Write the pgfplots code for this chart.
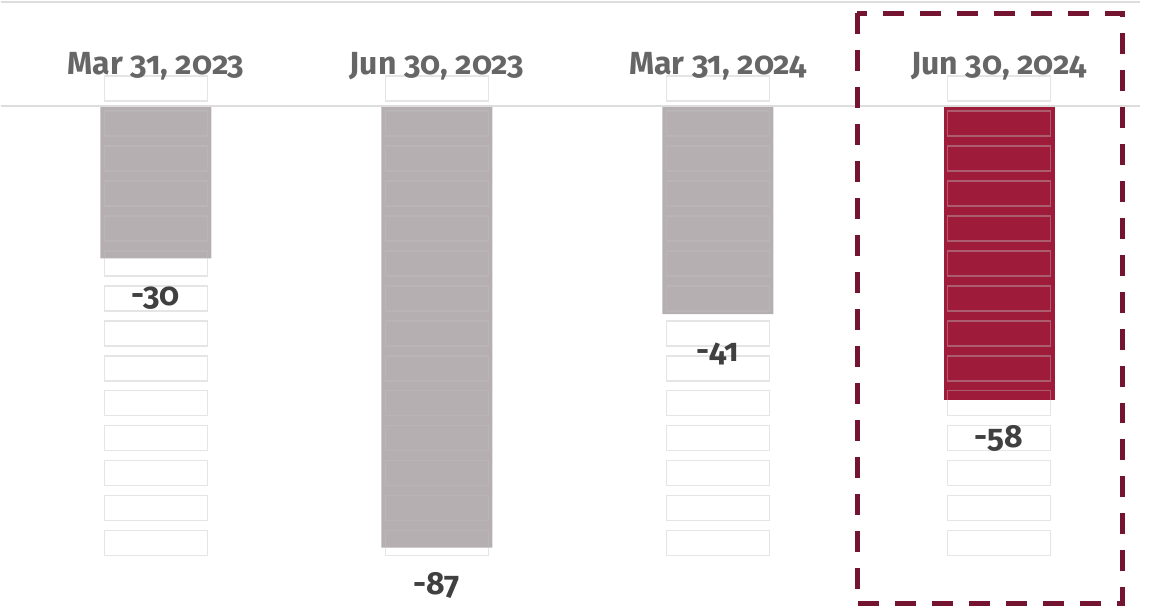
\documentclass[border=0pt]{standalone}
\usepackage{fontspec}
\setmainfont{Fira Sans}[RawFeature=+onum]
\usepackage{pgfplots}
\pgfplotsset{compat=1.18}
\definecolor{bargray}{RGB}{181,175,177}
\definecolor{barred}{RGB}{158,27,58}
\definecolor{boxred}{RGB}{116,20,48}
\definecolor{labgray}{RGB}{102,102,102}
\definecolor{valdark}{RGB}{64,64,64}
\definecolor{rule}{RGB}{221,221,221}

\begin{document}
\begin{tikzpicture}
\begin{axis}[
    width=586.5pt, height=306pt,
    scale only axis,
    hide axis,
    clip=false,
    xmin=-0.551, xmax=3.619,
    ymin=-99.6, ymax=20.9,
    ybar, bar width=0.395, bar shift=0pt,
    point meta=explicit symbolic,
    nodes near coords,
    every node near coord/.append style={anchor=base, yshift=-23.5pt,
        font=\fontsize{16}{18}\selectfont\bfseries, text=valdark},
]
\path (rel axis cs:0,0) rectangle (rel axis cs:1,1);

% rules
\draw[rule, line width=1pt] (axis cs:-0.551,20.47) -- (axis cs:3.5016,20.47);

\addplot[fill=bargray, draw=none] coordinates {(0,-30) [-30] (1,-87) [-87] (2,-41) [-41]};
\addplot[fill=barred, draw=none] coordinates {(3,-58) [-58]};

\draw[rule, line width=1pt] (axis cs:-0.551,0.1) -- (axis cs:3.5016,0.1);

% slot outlines
\foreach \c in {0,...,3}{
  \foreach \k in {0,...,13}{
    \edef\tmp{\noexpand\draw[black!25, draw opacity=0.4, line width=0.75pt]
      (axis cs:{\c-0.183},{(30-35*\k)/5.08}) rectangle (axis cs:{\c+0.183},{(5-35*\k)/5.08});}
    \tmp
  }
}

% category labels
\foreach \c/\t in {0/{Mar 31, 2023},1/{Jun 30, 2023},2/{Mar 31, 2024},3/{Jun 30, 2024}}{
  \edef\tmp{\noexpand\node[anchor=base, text=labgray, font=\noexpand\fontsize{16}{18}\noexpand\selectfont\noexpand\bfseries]
    at (axis cs:\c,6.3) {\t};}
  \tmp
}

% highlight box
\draw[boxred, line width=2.5pt, dash pattern=on 10.5pt off 8pt]
  (axis cs:2.4956,18.31) rectangle (axis cs:3.4376,-98.03);
\end{axis}
\end{tikzpicture}
\end{document}
